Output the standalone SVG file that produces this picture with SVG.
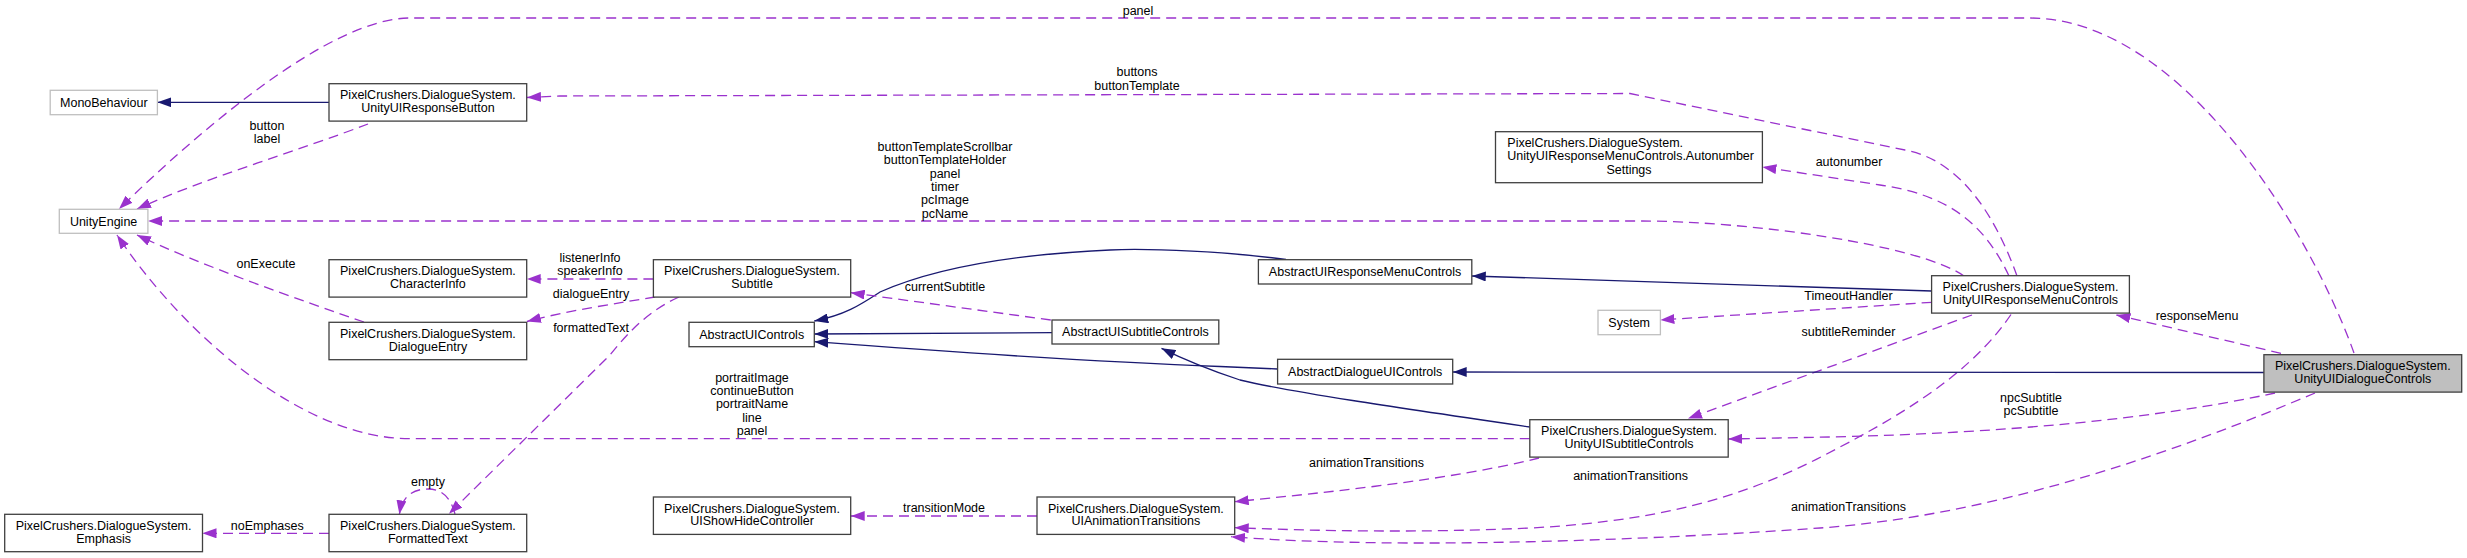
<svg xmlns="http://www.w3.org/2000/svg" width="2467" height="558" viewBox="0 0 2467 558">
<style>
text{font-family:"Liberation Sans",Arial,Helvetica,sans-serif;font-size:12.5px;fill:#000;text-anchor:middle}
.n rect{fill:#fff;stroke:#404040;stroke-width:1.3}
.n.g rect{stroke:#bfbfbf}
.n.s rect{fill:#bfbfbf}
.d{fill:none;stroke:#9a32cd;stroke-width:1.3;stroke-dasharray:10,6;marker-end:url(#ap)}
.i{fill:none;stroke:#191970;stroke-width:1.3;marker-end:url(#ab)}
.l text{font-size:12.5px}
</style>
<defs>
<marker id="ap" markerUnits="userSpaceOnUse" markerWidth="14" markerHeight="10" refX="14" refY="5" orient="auto" viewBox="0 0 14 10"><path d="M0,0 L14,5 L0,10 z" fill="#9a32cd"/></marker>
<marker id="ab" markerUnits="userSpaceOnUse" markerWidth="14" markerHeight="10" refX="14" refY="5" orient="auto" viewBox="0 0 14 10"><path d="M0,0 L14,5 L0,10 z" fill="#191970"/></marker>
</defs>
<rect width="2467" height="558" fill="#fff"/>
<g id="connectors">
<path class="d" d="M2354,353 C2310,230 2180,18 2030,18 L410,18 C330,18 200,130 119,209"/>
<path class="d" d="M2017,276 C1995,215 1960,160 1905,150 L1630,93.5 L560,96 L527,97.5"/>
<path class="d" d="M368,124 C300,150 200,180 137,209"/>
<path class="d" d="M1964,276 C1920,245 1750,221 1640,221 L148,221"/>
<path class="d" d="M2009,276 C1985,225 1950,195 1880,185 L1762.4,167"/>
<path class="i" d="M1286,259.5 C1230,252 1150,248 1110,250 C1000,255 930,270 880,292 C860,305 845,315 814.3,321"/>
<path class="i" d="M1931.6,291 L1471.8,276"/>
<path class="d" d="M1931.6,302.3 L1660.4,320"/>
<path class="d" d="M1972,315 L1688,418.5"/>
<path class="d" d="M2011,314.5 C1980,360 1930,400 1840,447 C1760,490 1680,520 1530,528 C1420,533 1320,531 1234.7,527.7"/>
<path class="d" d="M2281,353.3 L2116.4,315"/>
<path class="i" d="M2263.9,372.5 L1452.7,372"/>
<path class="d" d="M2275,393 C2150,420 2000,433 1830,437 L1728.2,439"/>
<path class="d" d="M2315,393 C2180,450 2000,515 1820,528 C1650,540 1400,550 1231,536.7"/>
<path class="i" d="M1277.6,369 L1220,366.5 C1100,362 950,352 814.3,341.7"/>
<path class="i" d="M1052,332.7 L814.3,334"/>
<path class="i" d="M1530,427 C1400,408 1290,392 1240,380 C1210,370 1185,360 1161.5,348.3"/>
<path class="d" d="M1529.8,438.7 L410,438.7 C300,438.7 180,330 117,235"/>
<path class="d" d="M364,322 C300,300 200,265 137,235"/>
<path class="d" d="M653.4,279 L526.7,279"/>
<path class="d" d="M655,297 C620,303 570,310 527,321.5"/>
<path class="d" d="M679,297 C650,310 630,330 610,355 L449,513.8"/>
<path class="d" d="M455,514 C450,495 440,489 428,489 C412,489 402,497 399.4,514.3"/>
<path class="d" d="M329,533.3 L202.5,533.3"/>
<path class="d" d="M1050.8,320 L850.7,292.7"/>
<path class="d" d="M1037,516 L850.7,516"/>
<path class="d" d="M1539,458 C1450,480 1330,492 1234.7,501.7"/>
<path class="i" d="M329,102.3 L157.4,102.3"/>
</g>
<g id="labels" class="l">
<text x="1138" y="15.4">panel</text>
<text x="1137" y="76.1">buttons</text>
<text x="1137" y="90.1">buttonTemplate</text>
<text x="267" y="130.4">button</text>
<text x="267" y="142.7">label</text>
<text x="945" y="151.1">buttonTemplateScrollbar</text>
<text x="945" y="164.4">buttonTemplateHolder</text>
<text x="945" y="178.1">panel</text>
<text x="945" y="191.1">timer</text>
<text x="945" y="204.4">pcImage</text>
<text x="945" y="217.7">pcName</text>
<text x="1849" y="166.1">autonumber</text>
<text x="266" y="268.4">onExecute</text>
<text x="590" y="262.1">listenerInfo</text>
<text x="590" y="275.1">speakerInfo</text>
<text x="591" y="298.4">dialogueEntry</text>
<text x="591" y="332.1">formattedText</text>
<text x="945" y="291.1">currentSubtitle</text>
<text x="1848.5" y="300.1">TimeoutHandler</text>
<text x="1848.5" y="336.1">subtitleReminder</text>
<text x="2197" y="320.1">responseMenu</text>
<text x="2031" y="402.1">npcSubtitle</text>
<text x="2031" y="415.1">pcSubtitle</text>
<text x="752" y="382.1">portraitImage</text>
<text x="752" y="395.1">continueButton</text>
<text x="752" y="408.1">portraitName</text>
<text x="752" y="421.7">line</text>
<text x="752" y="435.4">panel</text>
<text x="1366.5" y="467.1">animationTransitions</text>
<text x="1630.6" y="480.1">animationTransitions</text>
<text x="1848.5" y="511.1">animationTransitions</text>
<text x="428" y="486.4">empty</text>
<text x="267.3" y="530.4">noEmphases</text>
<text x="944" y="512.1">transitionMode</text>
</g>
<g id="MonoBehaviour" class="n g"><rect x="50.2" y="90.3" width="107.2" height="24.4"/><text x="103.8" y="106.9">MonoBehaviour</text></g>
<g id="UnityUIResponseButton" class="n"><rect x="329" y="83.7" width="197.7" height="37.4"/><text x="427.9" y="99.4">PixelCrushers.DialogueSystem.</text><text x="427.9" y="112.1">UnityUIResponseButton</text></g>
<g id="UnityEngine" class="n g"><rect x="59.3" y="209.3" width="88.6" height="24"/><text x="103.6" y="225.7">UnityEngine</text></g>
<g id="CharacterInfo" class="n"><rect x="329" y="259.7" width="197.7" height="37.4"/><text x="427.9" y="275.4">PixelCrushers.DialogueSystem.</text><text x="427.9" y="288.1">CharacterInfo</text></g>
<g id="DialogueEntry" class="n"><rect x="329" y="322.3" width="197.7" height="37.4"/><text x="427.9" y="338">PixelCrushers.DialogueSystem.</text><text x="427.9" y="350.7">DialogueEntry</text></g>
<g id="Emphasis" class="n"><rect x="4.7" y="514.3" width="197.8" height="37.4"/><text x="103.6" y="530">PixelCrushers.DialogueSystem.</text><text x="103.6" y="542.7">Emphasis</text></g>
<g id="FormattedText" class="n"><rect x="329" y="514.3" width="197.7" height="37.4"/><text x="427.9" y="530">PixelCrushers.DialogueSystem.</text><text x="427.9" y="542.7">FormattedText</text></g>
<g id="Subtitle" class="n"><rect x="653.4" y="259.7" width="197.3" height="37.4"/><text x="752" y="275.4">PixelCrushers.DialogueSystem.</text><text x="752" y="288.1">Subtitle</text></g>
<g id="AbstractUIControls" class="n"><rect x="689" y="322.3" width="125.3" height="24.4"/><text x="751.7" y="338.9">AbstractUIControls</text></g>
<g id="UIShowHideController" class="n"><rect x="653.4" y="497" width="197.3" height="37.4"/><text x="752" y="512.7">PixelCrushers.DialogueSystem.</text><text x="752" y="525.4">UIShowHideController</text></g>
<g id="AbstractUISubtitleControls" class="n"><rect x="1052" y="320" width="166.8" height="24"/><text x="1135.4" y="336.4">AbstractUISubtitleControls</text></g>
<g id="UIAnimationTransitions" class="n"><rect x="1037" y="497" width="197.7" height="37.4"/><text x="1135.9" y="512.7">PixelCrushers.DialogueSystem.</text><text x="1135.9" y="525.4">UIAnimationTransitions</text></g>
<g id="AbstractUIResponseMenuControls" class="n"><rect x="1258.4" y="259.7" width="213.4" height="24.3"/><text x="1365.1" y="276.3">AbstractUIResponseMenuControls</text></g>
<g id="AbstractDialogueUIControls" class="n"><rect x="1277.6" y="359.3" width="175.1" height="24.7"/><text x="1365.2" y="376.1">AbstractDialogueUIControls</text></g>
<g id="AutonumberSettings" class="n"><rect x="1495.5" y="131.7" width="266.9" height="51"/><text x="1507.3" y="147.1" style="text-anchor:start">PixelCrushers.DialogueSystem.</text><text x="1507.3" y="160.1" style="text-anchor:start">UnityUIResponseMenuControls.Autonumber</text><text x="1629" y="174.1">Settings</text></g>
<g id="System" class="n g"><rect x="1598" y="310.3" width="62.4" height="24.4"/><text x="1629.2" y="326.9">System</text></g>
<g id="UnityUISubtitleControls" class="n"><rect x="1529.8" y="419.7" width="198.4" height="37.4"/><text x="1629" y="435.4">PixelCrushers.DialogueSystem.</text><text x="1629" y="448.1">UnityUISubtitleControls</text></g>
<g id="UnityUIResponseMenuControls" class="n"><rect x="1931.6" y="275.7" width="197.8" height="37.4"/><text x="2030.5" y="291.4">PixelCrushers.DialogueSystem.</text><text x="2030.5" y="304.1">UnityUIResponseMenuControls</text></g>
<g id="UnityUIDialogueControls" class="n s"><rect x="2263.9" y="354.7" width="197.8" height="37.4"/><text x="2362.8" y="370.4">PixelCrushers.DialogueSystem.</text><text x="2362.8" y="383.1">UnityUIDialogueControls</text></g>
</svg>
